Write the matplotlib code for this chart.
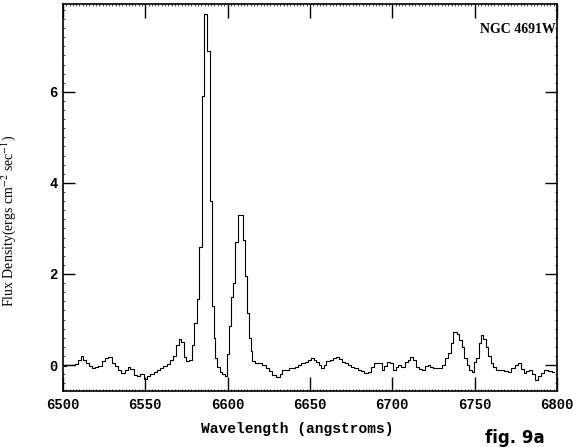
# -*- coding: utf-8 -*-
"""
Espectro NGC 4691W - regiao de H-alpha / [NII] / [SII]
"""

import matplotlib.pyplot as plt
import matplotlib.ticker as mticker
import numpy as np

plt.rcParams['mathtext.fontset'] = 'stix'

# comprimento de onda (angstroms)
wave = [6500.5, 6503, 6506, 6508.5, 6510, 6511.5, 6513, 6514.5, 6516.5, 6518.5,
        6520.5, 6522.5, 6524.5, 6526.5, 6528.5, 6530.5, 6532.5, 6534.5, 6536.5, 6538.5,
        6540, 6542, 6544, 6546, 6548, 6550, 6552, 6554, 6556, 6558,
        6560, 6562, 6564, 6566, 6568, 6569.5, 6571, 6572.5, 6574, 6576,
        6577.5, 6579, 6580.5, 6582, 6583.5, 6585, 6586.5, 6588, 6590, 6591,
        6592, 6593, 6594.5, 6596, 6597.5, 6599, 6600, 6601.5, 6602.5, 6603.5,
        6605.5, 6607.5, 6609, 6610, 6611, 6612.5, 6613.5, 6614.5, 6615.5, 6617.5,
        6620, 6622, 6624, 6626, 6628, 6630.5, 6632.5, 6634, 6636, 6638,
        6640, 6642, 6644, 6645.5, 6648, 6650, 6651.5, 6653, 6654.5, 6656,
        6657.5, 6659, 6661, 6663, 6665, 6667, 6668.5, 6670, 6672, 6674,
        6676, 6678, 6680, 6682, 6684, 6686, 6688, 6689.5, 6692.5, 6694.5,
        6696, 6697.5, 6699.5, 6701.5, 6703, 6704.5, 6706.5, 6708.5, 6710, 6711.5,
        6713.5, 6715.5, 6717, 6719, 6721, 6722, 6724, 6725, 6727, 6729,
        6731, 6733, 6735, 6736, 6738, 6740, 6741.5, 6743, 6744.5, 6746,
        6747.5, 6749, 6750, 6752, 6753, 6754.5, 6756, 6757.5, 6759, 6760.5,
        6762, 6764, 6767, 6769, 6771, 6773, 6775.5, 6777.5, 6779, 6780.5,
        6782, 6784, 6786, 6787.5, 6789, 6791, 6793.5, 6796, 6798]

# densidade de fluxo (unidades arbitrarias do grafico)
flux = [-0.03, 0.0, 0.0, 0.02, 0.12, 0.2, 0.12, 0.05, -0.02, -0.07,
        -0.05, -0.03, 0.08, 0.16, 0.17, 0.05, -0.02, -0.1, -0.17, -0.1,
        -0.05, -0.08, -0.22, -0.25, -0.2, -0.3, -0.25, -0.2, -0.15, -0.1,
        -0.06, -0.02, 0.03, 0.12, 0.2, 0.45, 0.58, 0.5, 0.18, 0.08,
        0.12, 0.45, 0.92, 1.45, 2.6, 5.9, 7.7, 6.9, 3.6, 1.3,
        0.6, 0.15, -0.05, -0.15, -0.2, -0.25, 0.25, 0.85, 1.5, 1.8,
        2.7, 3.3, 3.3, 2.75, 1.95, 1.15, 0.6, 0.3, 0.08, 0.04,
        0.04, 0.0, -0.07, -0.12, -0.22, -0.26, -0.2, -0.11, -0.1, -0.07,
        -0.06, -0.04, 0.0, 0.04, 0.07, 0.1, 0.15, 0.12, 0.06, 0.0,
        -0.07, 0.0, 0.08, 0.12, 0.15, 0.18, 0.13, 0.07, 0.04, 0.0,
        -0.04, -0.07, -0.1, -0.14, -0.18, -0.15, -0.05, 0.04, 0.04, -0.11,
        -0.02, 0.07, 0.04, -0.11, -0.05, 0.0, -0.04, 0.07, 0.12, 0.18,
        0.11, -0.04, -0.08, -0.11, -0.02, 0.0, -0.05, -0.07, -0.07, -0.07,
        0.0, 0.15, 0.26, 0.48, 0.73, 0.68, 0.55, 0.4, 0.15, 0.0,
        -0.1, -0.15, 0.07, 0.15, 0.48, 0.66, 0.58, 0.4, 0.2, 0.04,
        -0.05, -0.11, -0.11, -0.12, -0.15, -0.07, 0.0, 0.04, -0.08, -0.18,
        -0.12, -0.11, -0.2, -0.33, -0.25, -0.18, -0.11, -0.14, -0.15]

xticks = [6500, 6550, 6600, 6650, 6700, 6750, 6800]
yticks = [0, 2, 4, 6]

###============================================================================
fig = plt.figure(figsize=(5.8, 4.47), dpi=100)
ax = fig.add_axes([0.1086, 0.1253, 0.8517, 0.8658])

ax.step(wave, flux, where='mid', color='black', linewidth=0.8)

ax.set_xlim(6500, 6800)
ax.set_ylim(-0.57, 7.93)

# ticks para dentro, nos quatro lados
ax.set_xticks(xticks)
ax.set_yticks(yticks)
ax.xaxis.set_minor_locator(mticker.MultipleLocator(2))
ax.yaxis.set_minor_locator(mticker.MultipleLocator(0.2))
ax.tick_params(which='major', axis='x', direction='in', top=True, bottom=True,
               length=10, width=1.0, pad=5)
ax.tick_params(which='major', axis='y', direction='in', left=True, right=True,
               length=8.5, width=1.0, pad=4)
ax.tick_params(which='minor', direction='in', top=True, bottom=True,
               left=True, right=True, length=1.5, width=0.5)

for lab in ax.get_xticklabels() + ax.get_yticklabels():
    lab.set_family('Liberation Mono')
    lab.set_fontsize(10)
    lab.set_fontweight('bold')

for s in ax.spines.values():
    s.set_linewidth(1.2)

# rotulos dos eixos
fig.text(297.5 / 580, 1 - 429 / 447, 'Wavelength (angstroms)',
         family='Liberation Mono', fontweight='bold', fontsize=10.5,
         ha='center', va='center')
fig.text(9 / 580, 1 - 221 / 447, 'Flux Density(ergs cm$^{-2}$ sec$^{-1}$)',
         family='Liberation Serif', fontsize=10, rotation=90,
         ha='center', va='center')

# nome do objeto
ax.text(0.998, 0.935, 'NGC 4691W', transform=ax.transAxes,
        family='Liberation Serif', fontweight='bold', fontsize=10,
        ha='right', va='center')

# anotacao manuscrita
fig.text(515 / 580, 1 - 438 / 447, 'fig. 9a', family='DejaVu Sans',
         fontweight='bold', fontsize=12, ha='center', va='center')

fig.savefig('out.png', dpi=100)
